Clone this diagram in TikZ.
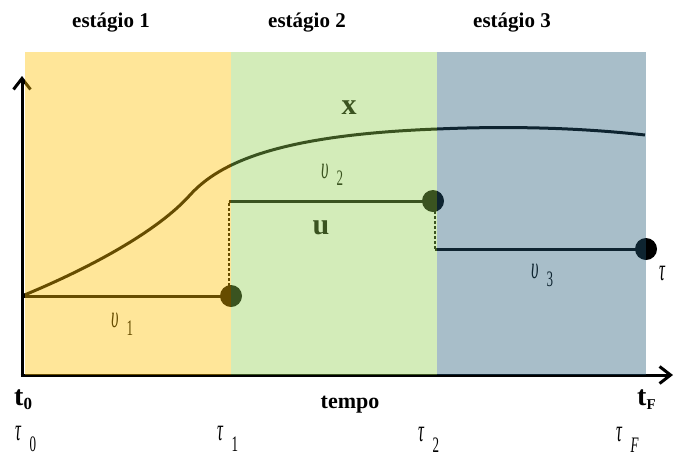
\documentclass[tikz,border=0pt]{standalone}
\usepackage{fontspec}
\setmainfont{Liberation Serif}
\usepackage{xcolor}
\usepackage{tikz}
\usetikzlibrary{arrows.meta}

\definecolor{amarelo}{RGB}{255,192,0}
\definecolor{verde}{RGB}{146,208,80}
\definecolor{azul}{RGB}{37,92,120}
% greek letter with a spaced, lowered index
\newcommand{\glab}[3]{\scalebox{1.25}[2.4]{\textit{#1}}\hspace{8pt}\raisebox{-#3}{\scalebox{1}[1.7]{#2}}}

\begin{document}
\begin{tikzpicture}[x=1pt, y=-1pt, >={Straight Barb[length=11pt, width=17pt]},
    axis/.style={line width=3pt},
    curve/.style={line width=3pt},
    uline/.style={line width=3pt},
    jump/.style={line width=1.5pt, dash pattern=on 3pt off 2pt},
    dot/.style={circle, fill=black, inner sep=0pt, minimum size=22pt},
    region/.style={fill opacity=0.4},
    title/.style={font=\bfseries\fontsize{21}{21}\selectfont, anchor=base},
    big/.style={font=\bfseries\fontsize{30}{30}\selectfont},
    glabel/.style={font=\fontsize{13}{13}\selectfont, anchor=base west, inner sep=0pt}]
    \useasboundingbox (0,0) rectangle (676,456);

    % axes
    \coordinate (orig) at (22,375);
    \coordinate (ytop) at (22,76);
    \coordinate (xend) at (673,375);
    \draw[axis,->] (orig) -- (ytop);
    \draw[axis,->] (20.5,375) -- (xend);

    % state x
    \draw[curve] (22,296) .. controls (90,268) and (158,231) .. (190,195)
        .. controls (220,162) and (280,135) .. (437,129)
        .. controls (530,125) and (600,130) .. (645,135);
    \node[big] (xlab) at (349,108) {x};

    % control u
    \coordinate (u0) at (22,296);
    \node[dot] (d1) at (231,296) {};
    \coordinate (j1) at (229,201);
    \node[dot] (d2) at (433,201) {};
    \coordinate (j2) at (435,249);
    \node[dot] (d3) at (646,249) {};
    \draw[uline] (u0) -- (d1.center);
    \draw[jump] (229,296) -- (j1);
    \draw[uline] (j1) -- (d2.center);
    \draw[jump] (d2.center -| j2) -- (j2);
    \draw[uline] (j2) -- (d3.center);
    \node[big] (ulab) at (321,228) {u};

    \node[glabel] (v1) at (111,327) {\glab{υ}{1}{8pt}};
    \node[glabel] (v2) at (321,178) {\glab{υ}{2}{7pt}};
    \node[glabel] (v3) at (531,278) {\glab{υ}{3}{8pt}};
    \node[glabel] (tau) at (659,280) {\scalebox{1.25}[2.4]{\textit{τ}}};

    % stages
    \fill[region, amarelo] (25,52) rectangle (231,375);
    \fill[region, verde] (231,52) rectangle (437,375);
    \fill[region, azul] (437,52) rectangle (646,375);
    \node[title] (st1) at (111,27) {estágio 1};
    \node[title] (st2) at (307,27) {estágio 2};
    \node[title] (st3) at (512,27) {estágio 3};

    % time axis labels
    \node[anchor=base west, inner sep=0pt, font=\bfseries\fontsize{28}{28}\selectfont] (t0) at (14,405) {t\raisebox{-4pt}{\fontsize{17}{17}\selectfont 0}};
    \node[anchor=base west, inner sep=0pt, font=\bfseries\fontsize{28}{28}\selectfont] (tF) at (637,405) {t\raisebox{-4pt}{\fontsize{15}{15}\selectfont F}};
    \node[anchor=base, font=\bfseries\fontsize{22}{22}\selectfont] (tempo) at (350,408) {tempo};
    \node[glabel] (tau0) at (15,440) {\glab{τ}{0}{11pt}};
    \node[glabel] (tau1) at (217,440) {\glab{τ}{1}{11pt}};
    \node[glabel] (tau2) at (418,441) {\glab{τ}{2}{11pt}};
    \node[glabel] (tauF) at (616,441) {\glab{τ}{\textit{F}}{11pt}};
\end{tikzpicture}
\end{document}
